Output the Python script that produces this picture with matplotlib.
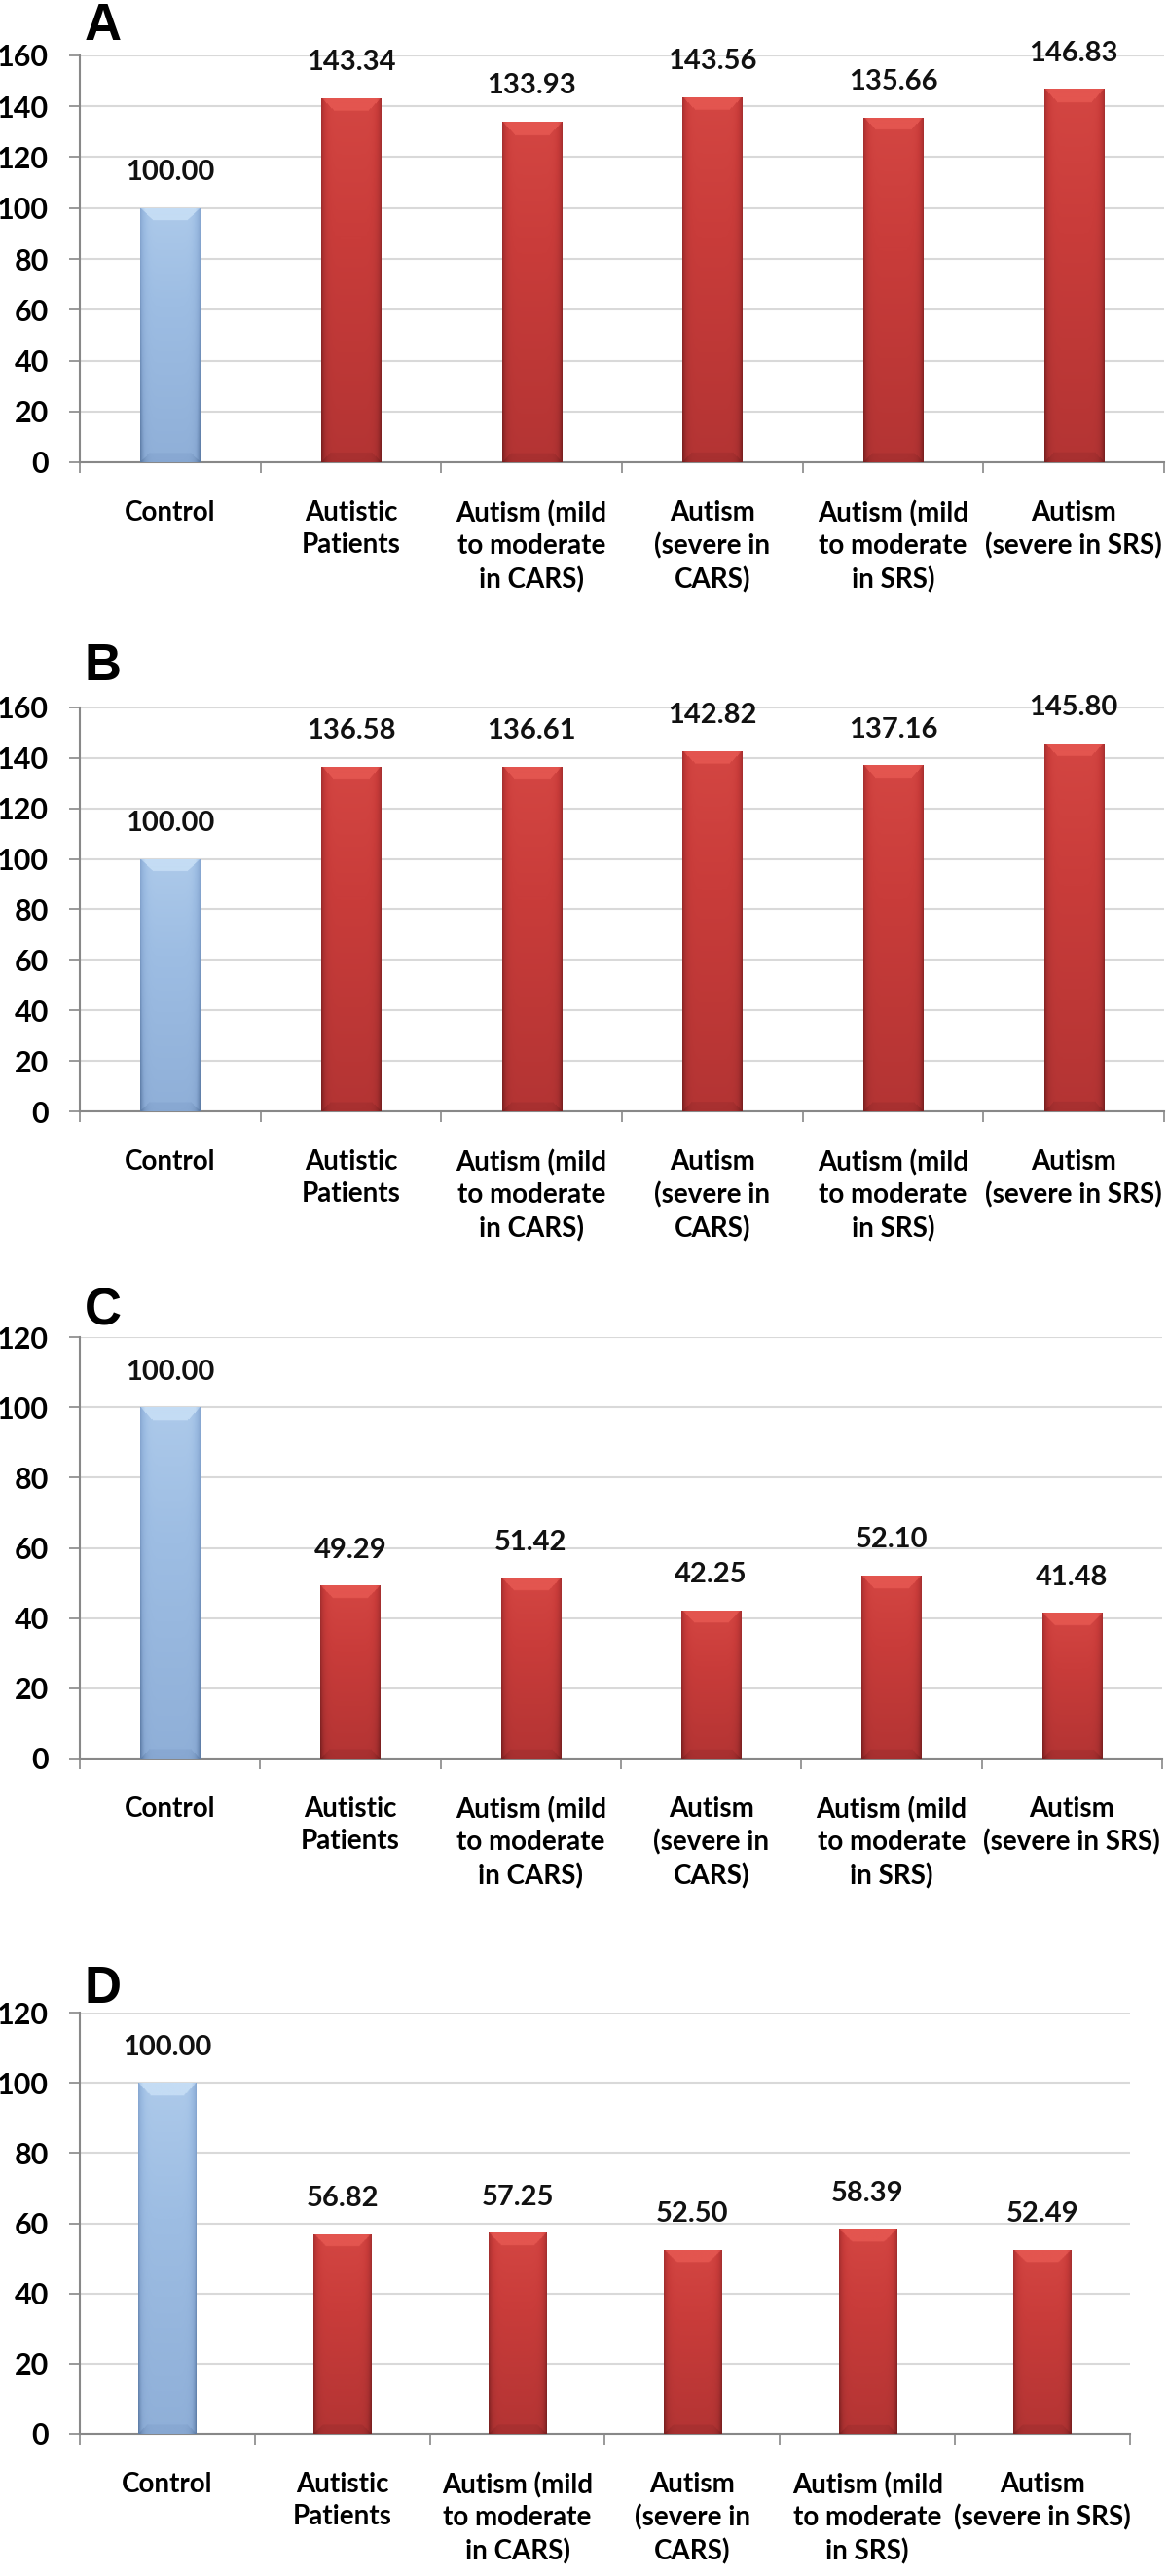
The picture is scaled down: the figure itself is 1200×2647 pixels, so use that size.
import numpy as np
import matplotlib.pyplot as plt
from matplotlib.colors import LinearSegmentedColormap

categories = ["Control", "Autistic\nPatients", "Autism (mild\nto moderate\nin CARS)",
              "Autism\n(severe in\nCARS)", "Autism (mild\nto moderate\nin SRS)",
              "Autism\n(severe in SRS)"]
values_a = [100.00, 143.34, 133.93, 143.56, 135.66, 146.83]
values_b = [100.00, 136.58, 136.61, 142.82, 137.16, 145.80]
values_c = [100.00, 49.29, 51.42, 42.25, 52.10, 41.48]
values_d = [100.00, 56.82, 57.25, 52.50, 58.39, 52.49]
panel_letters = ["A", "B", "C", "D"]
y_max = [160, 160, 120, 120]

W, H = 1200, 2647
# axes boxes in pixels: left, top, right, bottom
boxes = [(82, 57, 1196, 475), (82, 727, 1196, 1142),
         (82, 1374, 1194, 1807), (82, 2068, 1161, 2501)]
letter_top = [2, 660, 1323, 2019]

FONT = ["Lato", "DejaVu Sans"]
red_cmap = LinearSegmentedColormap.from_list("r", ["#7a2020", "#a83030", "#c93c3a", "#e3554f"])
blue_cmap = LinearSegmentedColormap.from_list("b", ["#5f7ea8", "#88a8d2", "#9dbde3", "#c4dcf4"])

fig = plt.figure(figsize=(W / 100, H / 100), dpi=100)


def shade(ax, bar, cmap, ppu, half_px):
    # gradient fill with a small bevel, clipped to the bar
    x0, y0 = bar.get_x(), bar.get_y()
    w, h = bar.get_width(), bar.get_height()
    hpx = h * ppu
    ny, nx = 300, 62
    v = np.linspace(1, 0, ny)[:, None]          # 1 at top
    u = np.linspace(-1, 1, nx)[None, :]
    z = 0.45 + 0.35 * v - 0.45 * np.abs(u) ** 8
    from_top = (1 - v) * hpx
    from_bot = v * hpx
    inner = (1 - np.abs(u)) * half_px
    z = np.where((from_top < 13) & (inner > from_top), z + 0.3, z)
    z = np.where((from_bot < 9) & (inner > from_bot), z - 0.12, z)
    z = np.clip(z, 0, 1)
    im = ax.imshow(z, extent=[x0, x0 + w, y0, y0 + h], origin="upper", aspect="auto",
                   cmap=cmap, vmin=0, vmax=1, zorder=3, interpolation="bilinear")
    im.set_clip_path(bar)


for i, vals in enumerate([values_a, values_b, values_c, values_d]):
    l, t, r, b = boxes[i]
    ax = fig.add_axes([l / W, 1 - b / H, (r - l) / W, (b - t) / H])
    x = np.arange(len(categories))
    colors = ["#9dbde3"] + ["#c23a38"] * (len(vals) - 1)
    bars = ax.bar(x, vals, width=0.33, color=colors, edgecolor="none", zorder=2)
    ppu = (b - t) / y_max[i]
    half_px = 0.33 * (r - l) / len(categories) / 2
    for j, bar in enumerate(bars):
        shade(ax, bar, blue_cmap if j == 0 else red_cmap, ppu, half_px)
        ax.annotate(f"{vals[j]:.2f}", (bar.get_x() + bar.get_width() / 2, vals[j]),
                    xytext=(0, 17), textcoords="offset points", ha="center", va="bottom",
                    fontsize=21, family=FONT, fontweight="bold", color="#111111")

    ax.set_xlim(-0.5, len(categories) - 0.5)
    ax.set_ylim(0, y_max[i])
    ax.set_yticks(np.arange(0, y_max[i] + 1, 20))
    ax.set_xticks(x)
    ax.set_xticklabels(categories, fontsize=20, family=FONT, fontweight="bold",
                       linespacing=1.35)
    ax.set_xticks(np.arange(-0.5, len(categories)), minor=True)
    ax.tick_params(axis="x", which="major", length=0, pad=28)
    ax.tick_params(axis="x", which="minor", length=8, width=1.2, color="#888888")
    ax.tick_params(axis="y", length=8, width=1.2, color="#888888", pad=15)
    for lab in ax.get_yticklabels():
        lab.set_fontsize(22)
        lab.set_family(FONT)
        lab.set_fontweight("bold")
    ax.grid(axis="y", color="#d9d9d9", linewidth=1.5, zorder=0)
    ax.set_axisbelow(True)
    for s in ["top", "right"]:
        ax.spines[s].set_visible(False)
    for s in ["left", "bottom"]:
        ax.spines[s].set_color("#888888")
        ax.spines[s].set_linewidth(1.5)

    fig.text(87 / W, 1 - letter_top[i] / H, panel_letters[i], fontsize=38,
             fontweight="bold", family=["Liberation Sans", "DejaVu Sans"], va="top", ha="left")

fig.savefig("out.png", dpi=100)
